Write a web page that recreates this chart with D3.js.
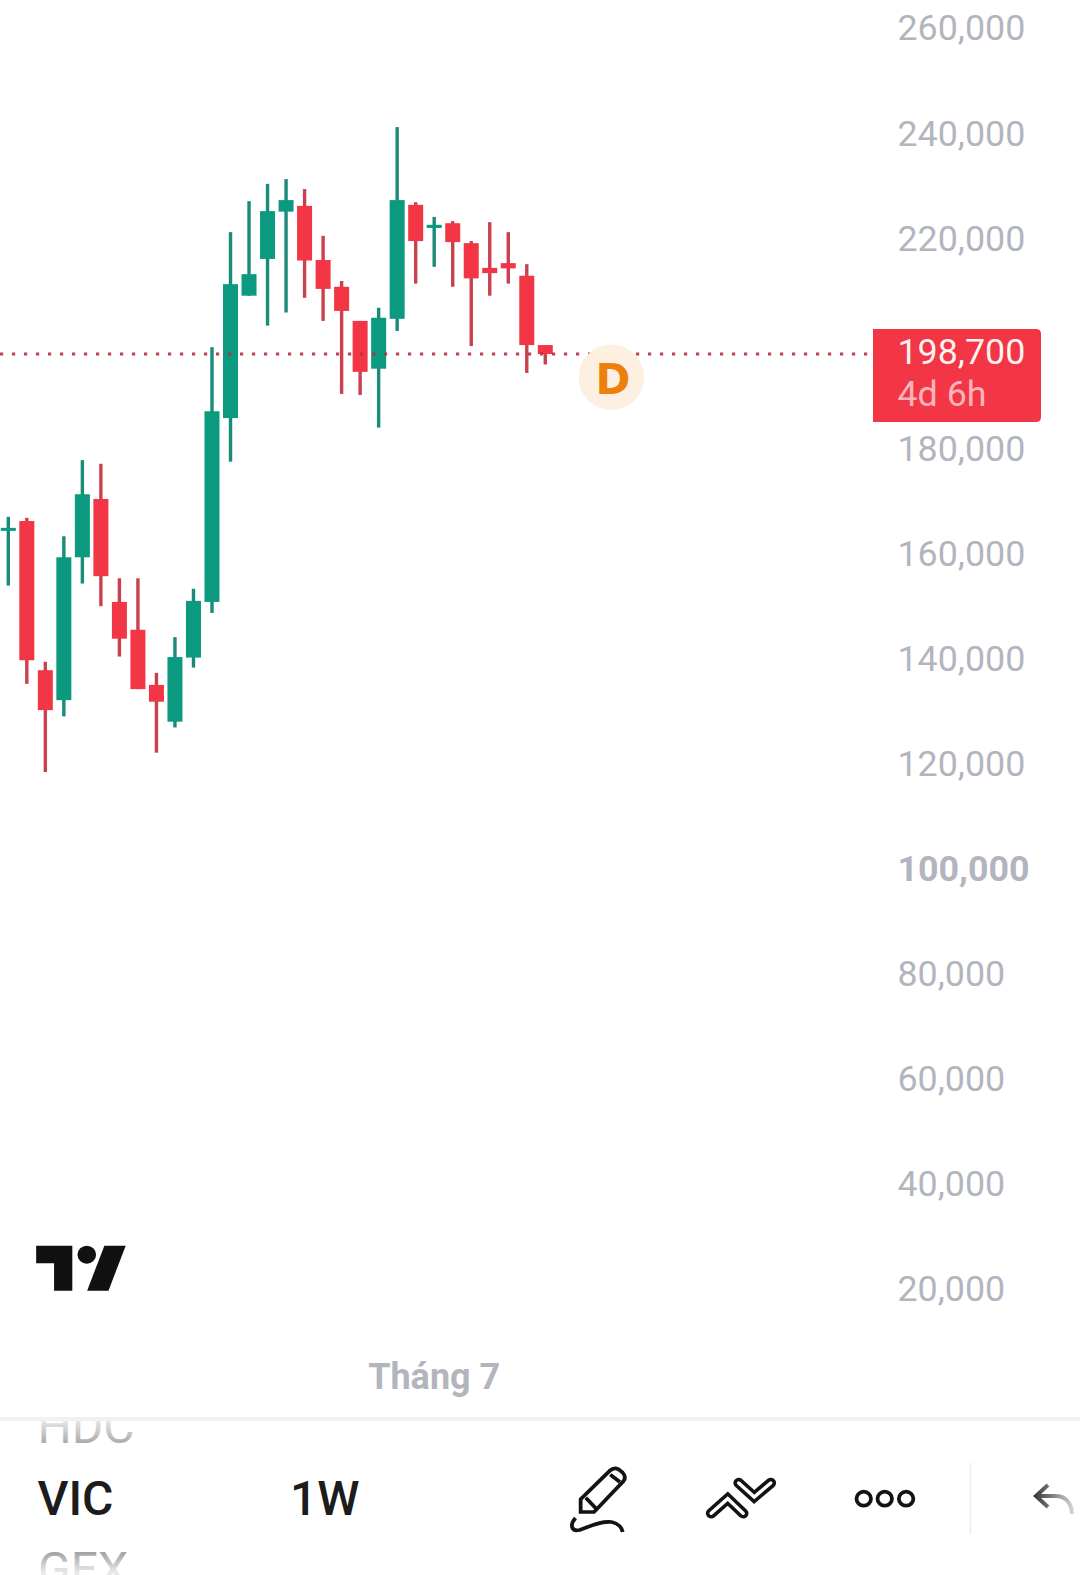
<!DOCTYPE html>
<html>
<head>
<meta charset="utf-8">
<script src="https://cdn.jsdelivr.net/npm/d3@7"></script>
<style>
  html, body { margin: 0; padding: 0; background: #fff; }
  svg { display: block; font-family: Roboto, sans-serif; }
</style>
</head>
<body>
<div id="chart"></div>
<script>
// VIC weekly candles
const opens  = [165100,166900,138500,132800,160000,171100,151500,146200,135700,128700,140900,151500,186500,209800,216800,225800,226900,216600,211500,205000,195900,205400,227100,222700,223600,219800,215100,216000,213600,200400];
const closes = [165600,140400,130900,160000,172000,156400,144500,134900,132500,141000,151700,187800,212000,213900,225900,228000,216500,211100,206900,195300,205600,228000,220200,223300,220000,213100,214100,215000,200400,198700];
const highs  = [167700,167500,140100,164000,178500,177800,156000,156000,138000,144800,154000,200000,221900,227800,231100,232000,230100,221200,212600,205000,207500,241900,227600,224800,224000,220200,223800,221900,215800,200400];
const lows   = [154600,135900,119100,129700,155000,150700,141100,134900,122800,127600,139000,149400,178200,209800,204100,206600,209400,205000,191100,190900,184700,203100,212100,215300,211500,200200,209800,212100,195100,196700];

const priceTicks = [260000,240000,220000,180000,160000,140000,120000,100000,80000,60000,40000,20000];
const boldTick = 100000;
const lastPrice = 198700;
const countdown = "4d 6h";
const timeTicks = [23];
const timeLabels = ["Tháng 7"];
const symbols = ["HDC", "VIC", "GEX"];
const interval = "1W";

const svgWidth = 1080;
const svgHeight = 1575;
const up = "#0b9a7f", down = "#f23645";
const upWick = "#1b8b79", downWick = "#c9414f";
const grey = "#b2b5be";

const svg = d3.select("#chart").append("svg")
  .attr("width", svgWidth)
  .attr("height", svgHeight);

const defs = svg.append("defs");
function fade(id, attrs, stops) {
  const g = defs.append("linearGradient").attr("id", id).attr("gradientUnits", "userSpaceOnUse");
  Object.entries(attrs).forEach(([k, v]) => g.attr(k, v));
  stops.forEach(s => g.append("stop").attr("offset", s[0]).attr("stop-color", s[1]));
}
fade("fadeTop", {x1: 0, x2: 0, y1: 1421, y2: 1444}, [[0, "#e6e6e6"], [1, "#a8a8a8"]]);
fade("fadeBottom", {x1: 0, x2: 0, y1: 1552, y2: 1572}, [[0, "#a0a0a0"], [1, "#e8e8e8"]]);
fade("fadeUndo", {x1: 1035, x2: 1075, y1: 0, y2: 0}, [[0, "#3a3a3a"], [1, "#dddddd"]]);

// scales: candle index to x, price to y
const x = d3.scaleLinear().domain([0, 29]).range([8.3, 545.3]);
const y = d3.scaleLinear().domain([lastPrice, 20000]).range([354, 354 + (lastPrice - 20000) / 20000 * 105.05]);

// candles
const candles = svg.append("g").selectAll("g")
  .data(opens.map((o, i) => ({i, o, c: closes[i], h: highs[i], l: lows[i]})))
  .join("g");

candles.append("rect")
  .attr("x", d => x(d.i) - 1.7)
  .attr("width", 3.4)
  .attr("y", d => y(d.h))
  .attr("height", d => y(d.l) - y(d.h))
  .attr("fill", d => d.c >= d.o ? upWick : downWick);

candles.append("rect")
  .attr("x", d => x(d.i) - 7.5)
  .attr("width", 15)
  .attr("y", d => y(Math.max(d.o, d.c)))
  .attr("height", d => Math.max(3, y(Math.min(d.o, d.c)) - y(Math.max(d.o, d.c))))
  .attr("fill", d => d.c >= d.o ? up : down);

// last price line
svg.append("line")
  .attr("x1", 0).attr("x2", 873)
  .attr("y1", y(lastPrice)).attr("y2", y(lastPrice))
  .attr("stroke", "#b8303e").attr("stroke-opacity", 0.9)
  .attr("stroke-width", 3.2).attr("stroke-dasharray", "3.2 8.8");

// price axis
const yAxis = svg.append("g")
  .attr("transform", "translate(897.5,-3.5)")
  .call(d3.axisRight(y).tickValues(priceTicks).tickSize(0).tickPadding(0).tickFormat(d3.format(",")));
yAxis.select(".domain").remove();
yAxis.selectAll("text")
  .attr("font-family", "Roboto, sans-serif")
  .attr("font-size", 35.8)
  .attr("fill", grey)
  .attr("font-weight", d => d === boldTick ? 700 : 400);

// time axis
const xAxis = svg.append("g")
  .attr("transform", "translate(-0.5,1388.5)")
  .call(d3.axisBottom(x).tickValues(timeTicks).tickSize(0).tickPadding(0).tickFormat((d, i) => timeLabels[i]));
xAxis.select(".domain").remove();
xAxis.selectAll("text")
  .attr("y", 0).attr("dy", 0)
  .attr("font-family", "Roboto, sans-serif")
  .attr("font-size", 36)
  .attr("font-weight", 700)
  .attr("fill", grey);

// price tag
svg.append("path")
  .attr("d", "M873 329 H1036 Q1041 329 1041 334 V417 Q1041 422 1036 422 H873 Z")
  .attr("fill", down);
svg.append("text").attr("x", 897.5).attr("y", 363.5)
  .attr("font-size", 35.8).attr("fill", "#fff").attr("fill-opacity", 0.95)
  .text(d3.format(",")(lastPrice));
svg.append("text").attr("x", 897.5).attr("y", 405.5)
  .attr("font-size", 35.8).attr("fill", "#fff").attr("fill-opacity", 0.65)
  .text(countdown);

// dividend badge
svg.append("circle").attr("cx", 611.3).attr("cy", 377.3).attr("r", 32.7).attr("fill", "#fdf0e0");
svg.append("text").attr("x", 613).attr("y", 394)
  .attr("text-anchor", "middle").attr("font-family", "DejaVu Sans").attr("font-size", 42).attr("font-weight", 700).attr("fill", "#ef7f0c")
  .text("D");

// tradingview logo
const logo = svg.append("g").attr("transform", "translate(0,1220) scale(0.3444,0.3333)").attr("fill", "#111");
logo.append("path").attr("d", "M105 77 H210 V212 H157 V130 H105 Z");
logo.append("circle").attr("cx", 252).attr("cy", 104).attr("r", 27);
logo.append("path").attr("d", "M303 77 H365 L315 212 H253 Z");

// bottom toolbar
svg.append("rect").attr("x", 0).attr("y", 1417).attr("width", svgWidth).attr("height", 4).attr("fill", "#f1f1f1");

const toolbar = svg.append("g").attr("font-size", 48);
const clip = svg.append("clipPath").attr("id", "wheel");
clip.append("rect").attr("x", 0).attr("y", 1421).attr("width", svgWidth).attr("height", 154);
toolbar.attr("clip-path", "url(#wheel)");
toolbar.append("text").attr("x", 37.5).attr("y", 1443).attr("fill", "url(#fadeTop)").text(symbols[0]);
toolbar.append("text").attr("x", 37.5).attr("y", 1514.5).attr("fill", "#1c1c1c").attr("font-weight", 500).text(symbols[1]);
toolbar.append("text").attr("x", 38).attr("y", 1586).attr("fill", "url(#fadeBottom)").text(symbols[2]);
toolbar.append("text").attr("x", 290).attr("y", 1514.5).attr("fill", "#1c1c1c").attr("font-weight", 500).text(interval);

const icons = svg.append("g")
  .attr("transform", "translate(540,1400) scale(0.3444,0.3333)")
  .attr("fill", "none").attr("stroke", "#131313").attr("stroke-width", 11);

// pencil
icons.append("path").attr("d", "M118 336 V298 L203 212 Q215 200 228 208 L240 218 Q252 232 242 244 L157 336 Z");
icons.append("path").attr("d", "M133 293 L162 325 M204 224 L232 246");
icons.append("path").attr("d", "M103 354 C85 375 92 396 115 390 C145 380 175 362 208 366 C228 370 238 384 240 396");

// double chevron, drawn as a thick dark stroke with a white core
[["M497 340 L545 296 L590 340"], ["M577 249 L622 291 L670 249"]].forEach(c => {
  icons.append("path").attr("d", c[0]).attr("stroke-width", 31).attr("stroke-linecap", "round");
  icons.append("path").attr("d", c[0]).attr("stroke-width", 10).attr("stroke", "#fff").attr("stroke-linecap", "round");
});

// more
[940, 1001, 1063].forEach(cx => {
  icons.append("circle").attr("cx", cx).attr("cy", 296).attr("r", 21);
});

svg.append("line").attr("x1", 970.5).attr("x2", 970.5).attr("y1", 1463).attr("y2", 1534)
  .attr("stroke", "#f0f0f0").attr("stroke-width", 2);

// undo
svg.append("path")
  .attr("d", "M1048 1485 L1036 1496 L1048 1507 M1036 1496 H1056 C1067 1496 1072 1505 1072 1514")
  .attr("fill", "none").attr("stroke", "url(#fadeUndo)").attr("stroke-width", 4);
</script>
</body>
</html>
